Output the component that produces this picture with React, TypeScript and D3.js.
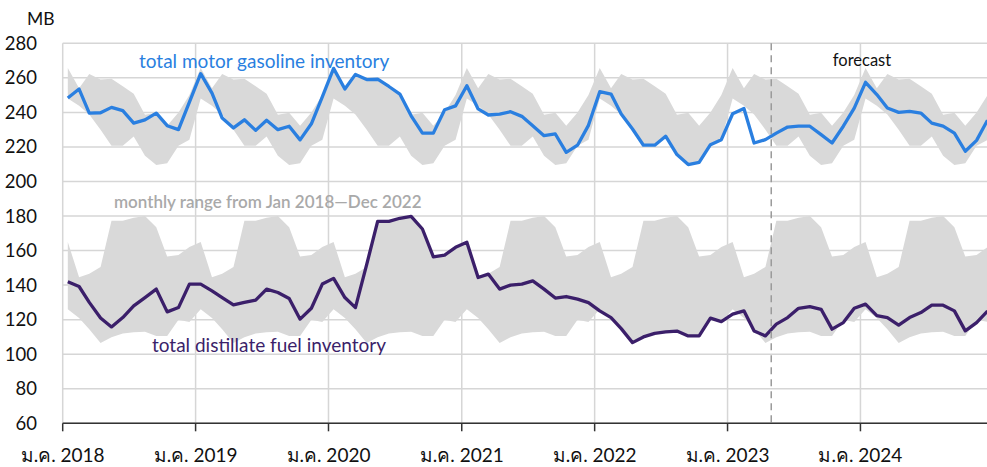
import React from 'react';
import * as d3 from 'd3';

// monthly values, Jan 2018 - Dec 2024 (MB)
const gasolineInventory = [
  248.3, 253.5, 239.6, 239.8, 242.9, 241.0, 233.8, 235.7, 239.6, 232.3, 230.0, 246.0,
  262.4, 251.2, 236.7, 231.0, 235.7, 229.6, 235.4, 230.0, 232.0, 224.1, 233.4, 249.0,
  265.5, 253.5, 262.0, 259.0, 259.2, 255.0, 250.6, 238.0, 228.0, 228.0, 241.5, 243.8,
  255.4, 242.0, 238.5, 239.0, 240.4, 237.7, 232.3, 226.5, 227.5, 216.9, 221.0, 232.5,
  252.0, 250.6, 239.0, 230.4, 221.0, 221.0, 226.2, 215.6, 209.8, 211.0, 221.3, 224.2,
  239.2, 242.3, 222.3, 224.2, 228.0, 231.5, 232.0, 232.0, 227.1, 222.3, 232.0, 242.5,
  257.4, 250.3, 242.5, 240.0, 240.6, 239.6, 233.8, 232.0, 228.0, 217.5, 223.8, 235.5,
];

const distillateInventory = [
  141.9, 139.2, 130.0, 121.0, 115.8, 121.2, 128.0, 132.8, 137.7, 124.5, 127.0, 140.6,
  140.6, 136.7, 132.8, 128.6, 130.0, 131.3, 137.7, 135.7, 132.3, 120.3, 126.6, 140.6,
  143.9, 132.8, 127.0, 152.0, 176.9, 176.9, 178.7, 179.8, 172.5, 156.4, 157.4, 161.9,
  164.8, 144.4, 146.4, 137.7, 140.0, 140.6, 142.5, 137.7, 132.5, 133.4, 131.9, 129.9,
  125.1, 121.2, 114.8, 106.7, 110.0, 112.1, 112.9, 113.4, 110.6, 110.6, 120.9, 118.9,
  123.2, 125.1, 113.5, 110.6, 117.4, 121.2, 126.6, 127.6, 126.0, 114.5, 118.3, 126.6,
  129.0, 122.3, 121.2, 116.8, 121.2, 124.1, 128.4, 128.4, 125.1, 113.5, 118.3, 125.0,
];

// Jan..Dec range 2018-2022
const gasolineRangeMax = [265.7, 254.0, 262.2, 259.0, 259.5, 255.2, 250.8, 238.6, 239.8, 232.3, 240.0, 250.0];
const gasolineRangeMin = [248.0, 243.9, 238.8, 230.0, 220.7, 220.7, 226.1, 214.9, 209.6, 210.6, 220.7, 224.1];
const distillateRangeMax = [165.0, 144.6, 146.6, 150.5, 177.2, 177.2, 179.0, 180.0, 173.5, 156.5, 157.5, 162.0];
const distillateRangeMin = [126.0, 121.0, 114.5, 106.5, 109.8, 112.0, 112.7, 113.0, 110.5, 110.5, 120.0, 118.7];

const yearTicks = [2018, 2019, 2020, 2021, 2022, 2023, 2024];
const yTicks = [60, 80, 100, 120, 140, 160, 180, 200, 220, 240, 260, 280];
const tickMonthLabel = 'ม.ค.';
const forecastStart = new Date(2023, 4, 1);

const width = 987;
const height = 467;
const font = 'Lato, "DejaVu Sans", sans-serif';

export default function App() {
  const months = gasolineInventory.map((_, i) => new Date(2018, i, 15));

  const x = d3.scaleTime()
    .domain([new Date(2018, 0, 1), new Date(2025, 0, 1)])
    .range([62.7, 62.7 + 7 * 133]);
  const y = d3.scaleLinear().domain([60, 280]).range([423.3, 43.3]);
  const x0 = x.range()[0];

  const line = d3.line<number>()
    .x((_, i) => x(months[i]))
    .y(d => y(d));

  const band = (lo: number[], hi: number[]) =>
    d3.area<Date>()
      .x(d => x(d))
      .y0((_, i) => y(lo[i % 12]))
      .y1((_, i) => y(hi[i % 12]))(months) as string;

  return (
    <svg width={width} height={height} style={{ position: 'absolute', left: 0, top: 0 }} fontFamily={font}>
      <defs>
        <clipPath id="plot">
          <rect x={x0} y={0} width={width - x0} height={height} />
        </clipPath>
      </defs>

      {/* grid */}
      {yTicks.map(t => (
        <line key={'h' + t} x1={x0} x2={width} y1={y(t)} y2={y(t)} stroke="#d6d6d6" strokeWidth={1.5} />
      ))}
      {yearTicks.map(yr => (
        <line key={'v' + yr} x1={x(new Date(yr, 0, 1))} x2={x(new Date(yr, 0, 1))} y1={y(280)} y2={y(60)}
          stroke="#d6d6d6" strokeWidth={1.5} />
      ))}

      <g clipPath="url(#plot)">
        <path d={band(gasolineRangeMin, gasolineRangeMax)} fill="#d9d9d9" />
        <path d={band(distillateRangeMin, distillateRangeMax)} fill="#d9d9d9" />
        <path d={line(gasolineInventory) as string} fill="none" stroke="#2a7fe0" strokeWidth={3.3} strokeLinejoin="round" />
        <path d={line(distillateInventory) as string} fill="none" stroke="#3b1f6a" strokeWidth={3.3} strokeLinejoin="round" />
      </g>

      {/* forecast divider */}
      <line x1={x(forecastStart)} x2={x(forecastStart)} y1={y(280)} y2={y(60)}
        stroke="#9a9a9a" strokeWidth={1.5} strokeDasharray="7,5" />
      <text x={862} y={66} textAnchor="middle" fontSize={16.5} fill="#111">forecast</text>

      {/* x axis */}
      <line x1={x0} x2={width} y1={y(60)} y2={y(60)} stroke="#333" strokeWidth={1.5} />
      {yearTicks.map(yr => {
        const px = x(new Date(yr, 0, 1));
        return (
          <g key={'t' + yr}>
            <line x1={px} x2={px} y1={y(60)} y2={y(60) + 8} stroke="#333" strokeWidth={1.5} />
            <text x={px} y={462} textAnchor="middle" fontSize={19} fill="#111">{tickMonthLabel} {yr}</text>
          </g>
        );
      })}

      {/* y axis */}
      {yTicks.map(t => (
        <text key={'y' + t} x={37} y={y(t)} dy="0.35em" textAnchor="end" fontSize={18.5} fill="#111">{t}</text>
      ))}
      <text x={27} y={25} fontSize={17.5} fill="#111">MB</text>

      {/* labels */}
      <text x={139} y={68} fontSize={19} fill="#2a7fe0">total motor gasoline inventory</text>
      <text x={114} y={208} fontSize={17} fontWeight={600} fill="#a9a9a9">monthly range from Jan 2018—Dec 2022</text>
      <text x={152} y={352} fontSize={19} fill="#3b1f6a">total distillate fuel inventory</text>
    </svg>
  );
}
